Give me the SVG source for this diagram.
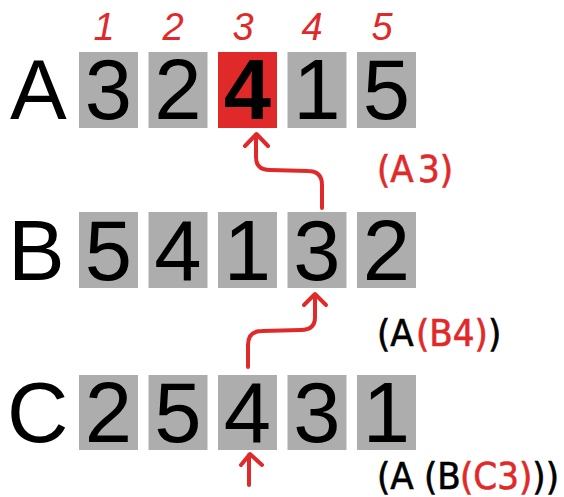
<svg xmlns="http://www.w3.org/2000/svg" width="564" height="497" viewBox="0 0 564 497">
<style>
.cell{fill:#adadad}
.hl{fill:#e02a2a}
.big{font-family:"Liberation Sans",Arial,sans-serif;font-size:85px;fill:#000}
.dg{font-family:"Liberation Sans",Arial,sans-serif;font-size:85px;fill:#000;text-anchor:middle}
.bold{font-weight:bold}
.idx{font-family:"Liberation Sans",Arial,sans-serif;font-size:38px;font-style:italic;fill:#e02a2a;text-anchor:middle}
.note{font-family:"DejaVu Sans Condensed","DejaVu Sans",sans-serif;font-size:38px;stroke-width:0.6}
.r{fill:#e02a2a;stroke:#e02a2a}
.k{fill:#000;stroke:#000}
.arr{fill:none;stroke:#e02a2a;stroke-width:4;stroke-linecap:round;stroke-linejoin:round}
</style>
<rect width="564" height="497" fill="#fff"/>
<g id="indices">
<text class="idx" x="104" y="40">1</text>
<text class="idx" x="173" y="40">2</text>
<text class="idx" x="243" y="40">3</text>
<text class="idx" x="312" y="40">4</text>
<text class="idx" x="382" y="40">5</text>
</g>
<g id="rowA">
<text class="big" x="10" y="119">A</text>
<rect class="cell" x="79" y="52" width="59" height="76"/>
<rect class="cell" x="148.5" y="52" width="59" height="76"/>
<rect class="hl" x="218" y="52" width="59" height="76"/>
<rect class="cell" x="287.5" y="52" width="59" height="76"/>
<rect class="cell" x="357" y="52" width="59" height="76"/>
<text class="dg" x="108.5" y="119">3</text>
<text class="dg" x="178" y="119">2</text>
<text class="dg bold" x="247.5" y="119">4</text>
<text class="dg" x="317" y="119">1</text>
<text class="dg" x="386.5" y="119">5</text>
</g>
<g id="rowB">
<text class="big" x="8" y="280">B</text>
<rect class="cell" x="79" y="212" width="59" height="76"/>
<rect class="cell" x="148.5" y="212" width="59" height="76"/>
<rect class="cell" x="218" y="212" width="59" height="76"/>
<rect class="cell" x="287.5" y="212" width="59" height="76"/>
<rect class="cell" x="357" y="212" width="59" height="76"/>
<text class="dg" x="108.5" y="280">5</text>
<text class="dg" x="178" y="280">4</text>
<text class="dg" x="247.5" y="280">1</text>
<text class="dg" x="317" y="280">3</text>
<text class="dg" x="386.5" y="280">2</text>
</g>
<g id="rowC">
<text class="big" x="7" y="442">C</text>
<rect class="cell" x="79" y="375" width="59" height="75"/>
<rect class="cell" x="148.5" y="375" width="59" height="75"/>
<rect class="cell" x="218" y="375" width="59" height="75"/>
<rect class="cell" x="287.5" y="375" width="59" height="75"/>
<rect class="cell" x="357" y="375" width="59" height="75"/>
<text class="dg" x="108.5" y="442">2</text>
<text class="dg" x="178" y="442">5</text>
<text class="dg" x="247.5" y="442">4</text>
<text class="dg" x="317" y="442">3</text>
<text class="dg" x="386.5" y="442">1</text>
</g>
<g id="connectors">
<path class="arr" d="M322 208 L322 185 Q322 171 308 171 L270 170 Q256 170 256 157 L256 135"/>
<path class="arr" d="M245 146 L256.5 134 L268 146"/>
<path class="arr" d="M248 367 L248 345 Q248 331 262 331 L301 330 Q315 330 315 317 L315 295"/>
<path class="arr" d="M304 305 L315 294 L326 305"/>
<path class="arr" d="M249 485 L249 455"/>
<path class="arr" d="M241 465 L250 454 L262 465"/>
</g>
<g id="notes">
<text class="note r" x="377" y="182">(A<tspan x="418">3</tspan>)</text>
<text class="note" y="346"><tspan class="k" x="377">(A</tspan><tspan class="r" x="416">(B4)</tspan><tspan class="k">)</tspan></text>
<text class="note" y="489"><tspan class="k" x="377">(A</tspan><tspan class="k" x="424">(B</tspan><tspan class="r" x="460">(C3)</tspan><tspan class="k">))</tspan></text>
</g>
</svg>
